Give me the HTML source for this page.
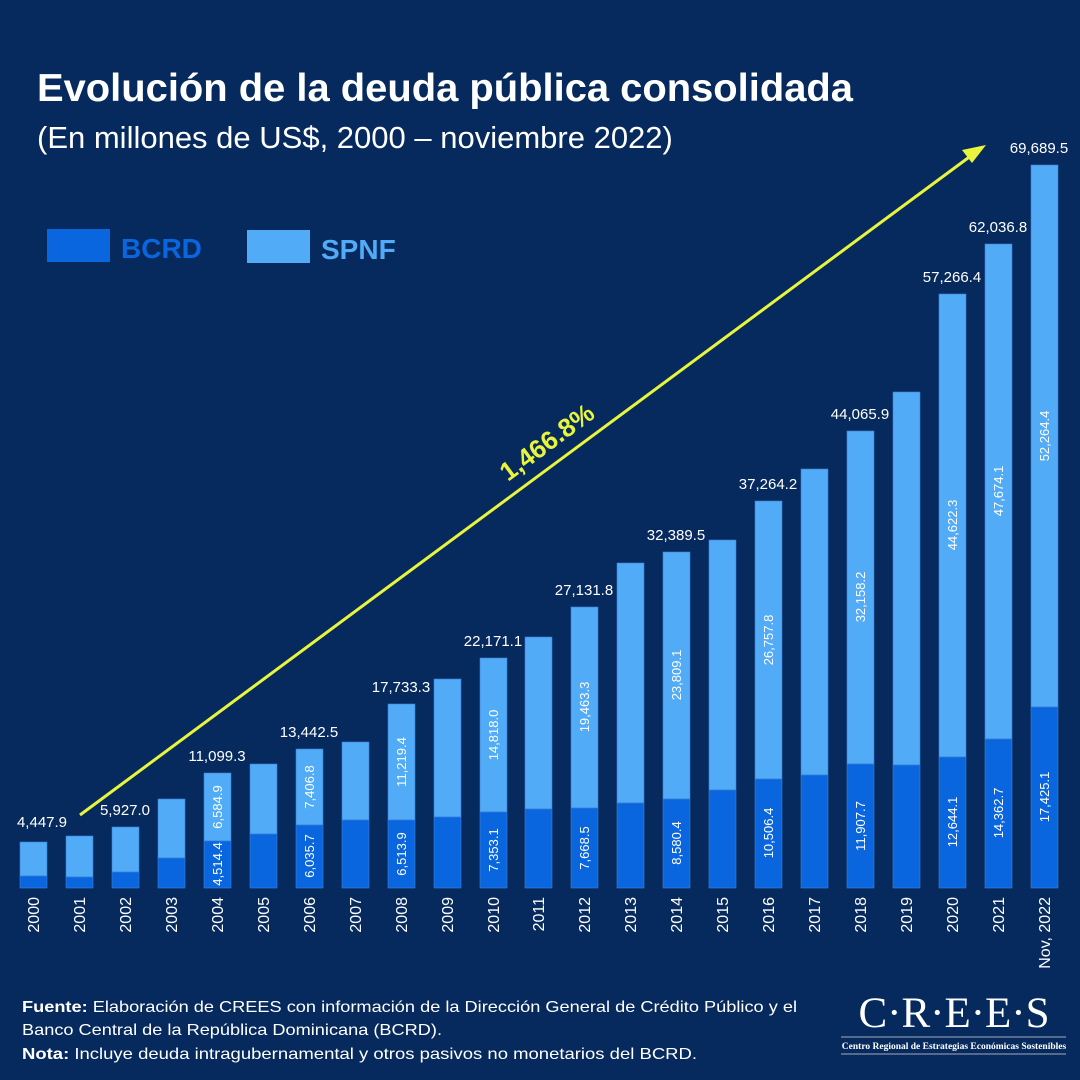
<!DOCTYPE html>
<html><head><meta charset="utf-8"><style>
body{margin:0;background:#062a5e;}
svg{display:block;font-family:"Liberation Sans",sans-serif;}
</style></head><body>
<svg width="1080" height="1080" viewBox="0 0 1080 1080" xmlns="http://www.w3.org/2000/svg">
<rect width="1080" height="1080" fill="#062a5e"/>
<text x="37" y="101" font-size="39" font-weight="bold" fill="#fff" textLength="816" lengthAdjust="spacingAndGlyphs">Evolución de la deuda pública consolidada</text>
<text x="37" y="148" font-size="31" fill="#fff">(En millones de US$, 2000 – noviembre 2022)</text>
<rect x="47" y="229" width="63" height="33" fill="#0a66de"/>
<text x="121" y="258" font-size="28" font-weight="bold" fill="#0a66de">BCRD</text>
<rect x="247" y="230" width="63" height="33" fill="#51abf7"/>
<text x="321" y="259" font-size="28" font-weight="bold" fill="#51abf7">SPNF</text>
<g stroke="#3d7fd6" stroke-width="0.6">
<rect x="20" y="842" width="27" height="34" fill="#51abf7"/><rect x="20" y="876" width="27" height="12" fill="#0a66de"/>
<rect x="66" y="836" width="27" height="41" fill="#51abf7"/><rect x="66" y="877" width="27" height="11" fill="#0a66de"/>
<rect x="112" y="827" width="27" height="45" fill="#51abf7"/><rect x="112" y="872" width="27" height="16" fill="#0a66de"/>
<rect x="158" y="799" width="27" height="59" fill="#51abf7"/><rect x="158" y="858" width="27" height="30" fill="#0a66de"/>
<rect x="204" y="773" width="27" height="68" fill="#51abf7"/><rect x="204" y="841" width="27" height="47" fill="#0a66de"/>
<rect x="250" y="764" width="27" height="70" fill="#51abf7"/><rect x="250" y="834" width="27" height="54" fill="#0a66de"/>
<rect x="296" y="749" width="27" height="76" fill="#51abf7"/><rect x="296" y="825" width="27" height="63" fill="#0a66de"/>
<rect x="342" y="742" width="27" height="78" fill="#51abf7"/><rect x="342" y="820" width="27" height="68" fill="#0a66de"/>
<rect x="388" y="704" width="27" height="116" fill="#51abf7"/><rect x="388" y="820" width="27" height="68" fill="#0a66de"/>
<rect x="434" y="679" width="27" height="138" fill="#51abf7"/><rect x="434" y="817" width="27" height="71" fill="#0a66de"/>
<rect x="480" y="658" width="27" height="154" fill="#51abf7"/><rect x="480" y="812" width="27" height="76" fill="#0a66de"/>
<rect x="525" y="637" width="27" height="172" fill="#51abf7"/><rect x="525" y="809" width="27" height="79" fill="#0a66de"/>
<rect x="571" y="607" width="27" height="201" fill="#51abf7"/><rect x="571" y="808" width="27" height="80" fill="#0a66de"/>
<rect x="617" y="563" width="27" height="240" fill="#51abf7"/><rect x="617" y="803" width="27" height="85" fill="#0a66de"/>
<rect x="663" y="552" width="27" height="247" fill="#51abf7"/><rect x="663" y="799" width="27" height="89" fill="#0a66de"/>
<rect x="709" y="540" width="27" height="250" fill="#51abf7"/><rect x="709" y="790" width="27" height="98" fill="#0a66de"/>
<rect x="755" y="501" width="27" height="278" fill="#51abf7"/><rect x="755" y="779" width="27" height="109" fill="#0a66de"/>
<rect x="801" y="469" width="27" height="306" fill="#51abf7"/><rect x="801" y="775" width="27" height="113" fill="#0a66de"/>
<rect x="847" y="431" width="27" height="333" fill="#51abf7"/><rect x="847" y="764" width="27" height="124" fill="#0a66de"/>
<rect x="893" y="392" width="27" height="373" fill="#51abf7"/><rect x="893" y="765" width="27" height="123" fill="#0a66de"/>
<rect x="939" y="294" width="27" height="463" fill="#51abf7"/><rect x="939" y="757" width="27" height="131" fill="#0a66de"/>
<rect x="985" y="244" width="27" height="495" fill="#51abf7"/><rect x="985" y="739" width="27" height="149" fill="#0a66de"/>
<rect x="1031" y="165" width="27" height="542" fill="#51abf7"/><rect x="1031" y="707" width="27" height="181" fill="#0a66de"/>
</g>
<g font-size="15" fill="#fff" text-anchor="middle">
<text x="42" y="827">4,447.9</text>
<text x="125" y="815">5,927.0</text>
<text x="217" y="761">11,099.3</text>
<text x="309" y="737">13,442.5</text>
<text x="401" y="692">17,733.3</text>
<text x="493" y="646">22,171.1</text>
<text x="584" y="595">27,131.8</text>
<text x="676" y="540">32,389.5</text>
<text x="768" y="489">37,264.2</text>
<text x="860" y="419">44,065.9</text>
<text x="952" y="282">57,266.4</text>
<text x="998" y="232">62,036.8</text>
<text x="1039" y="153">69,689.5</text>
</g>
<g font-size="13" fill="#fff" text-anchor="middle">
<text transform="translate(222,807) rotate(-90)">6,584.9</text>
<text transform="translate(222,864) rotate(-90)">4,514.4</text>
<text transform="translate(314,787) rotate(-90)">7,406.8</text>
<text transform="translate(314,856) rotate(-90)">6,035.7</text>
<text transform="translate(406,762) rotate(-90)">11,219.4</text>
<text transform="translate(406,854) rotate(-90)">6,513.9</text>
<text transform="translate(498,735) rotate(-90)">14,818.0</text>
<text transform="translate(498,850) rotate(-90)">7,353.1</text>
<text transform="translate(589,707) rotate(-90)">19,463.3</text>
<text transform="translate(589,848) rotate(-90)">7,668.5</text>
<text transform="translate(681,675) rotate(-90)">23,809.1</text>
<text transform="translate(681,843) rotate(-90)">8,580.4</text>
<text transform="translate(773,640) rotate(-90)">26,757.8</text>
<text transform="translate(773,833) rotate(-90)">10,506.4</text>
<text transform="translate(865,597) rotate(-90)">32,158.2</text>
<text transform="translate(865,826) rotate(-90)">11,907.7</text>
<text transform="translate(957,525) rotate(-90)">44,622.3</text>
<text transform="translate(957,822) rotate(-90)">12,644.1</text>
<text transform="translate(1003,491) rotate(-90)">47,674.1</text>
<text transform="translate(1003,813) rotate(-90)">14,362.7</text>
<text transform="translate(1049,436) rotate(-90)">52,264.4</text>
<text transform="translate(1049,797) rotate(-90)">17,425.1</text>
</g>
<g font-size="16" fill="#fff" text-anchor="end">
<text transform="translate(39,897) rotate(-90)">2000</text>
<text transform="translate(85,897) rotate(-90)">2001</text>
<text transform="translate(131,897) rotate(-90)">2002</text>
<text transform="translate(177,897) rotate(-90)">2003</text>
<text transform="translate(223,897) rotate(-90)">2004</text>
<text transform="translate(269,897) rotate(-90)">2005</text>
<text transform="translate(315,897) rotate(-90)">2006</text>
<text transform="translate(361,897) rotate(-90)">2007</text>
<text transform="translate(407,897) rotate(-90)">2008</text>
<text transform="translate(453,897) rotate(-90)">2009</text>
<text transform="translate(499,897) rotate(-90)">2010</text>
<text transform="translate(544,897) rotate(-90)">2011</text>
<text transform="translate(590,897) rotate(-90)">2012</text>
<text transform="translate(636,897) rotate(-90)">2013</text>
<text transform="translate(682,897) rotate(-90)">2014</text>
<text transform="translate(728,897) rotate(-90)">2015</text>
<text transform="translate(774,897) rotate(-90)">2016</text>
<text transform="translate(820,897) rotate(-90)">2017</text>
<text transform="translate(866,897) rotate(-90)">2018</text>
<text transform="translate(912,897) rotate(-90)">2019</text>
<text transform="translate(958,897) rotate(-90)">2020</text>
<text transform="translate(1004,897) rotate(-90)">2021</text>
<text transform="translate(1050,897) rotate(-90)">Nov, 2022</text>
</g>
<line x1="80" y1="815" x2="972" y2="155" stroke="#e8f53c" stroke-width="3"/>
<polygon points="986,145 962,150 972,163" fill="#e8f53c"/>
<text transform="translate(508,482) rotate(-36.5)" font-size="26" font-weight="bold" fill="#e8f53c">1,466.8%</text>
<g font-size="16" fill="#fff">
<text x="22" y="1012" textLength="775" lengthAdjust="spacingAndGlyphs"><tspan font-weight="bold">Fuente:</tspan> Elaboración de CREES con información de la Dirección General de Crédito Público y el</text>
<text x="22" y="1035" textLength="420" lengthAdjust="spacingAndGlyphs">Banco Central de la República Dominicana (BCRD).</text>
<text x="22" y="1059" textLength="675" lengthAdjust="spacingAndGlyphs"><tspan font-weight="bold">Nota:</tspan> Incluye deuda intragubernamental y otros pasivos no monetarios del BCRD.</text>
</g>
<text x="954" y="1027" font-family="Liberation Serif,serif" font-size="43" fill="#fff" text-anchor="middle">C·R·E·E·S</text>
<line x1="841" y1="1037" x2="1066" y2="1037" stroke="#aab" stroke-width="1"/>
<text x="954" y="1049" font-family="Liberation Serif,serif" font-size="9.5" font-weight="bold" fill="#fff" text-anchor="middle">Centro Regional de Estrategias Económicas Sostenibles</text>
<line x1="841" y1="1054" x2="1066" y2="1054" stroke="#aab" stroke-width="1"/>
</svg>
</body></html>
